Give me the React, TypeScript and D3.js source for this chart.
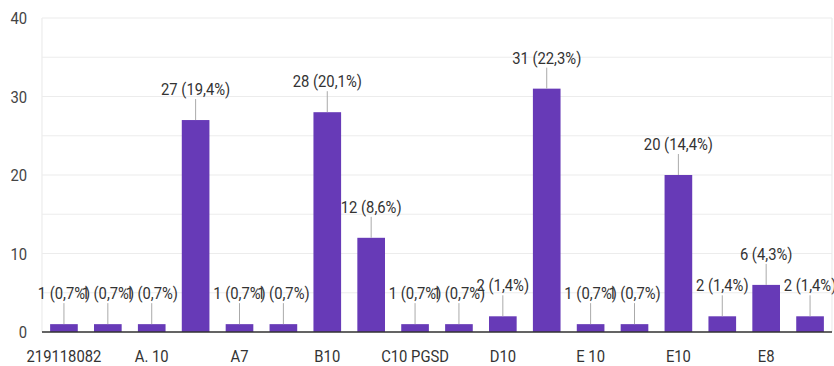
import React from "react";
import * as d3 from "d3";

// Categories (only every second label is shown on the axis, as in the reference)
const categories = [
  "219118082", "A 10", "A. 10", "A.10", "A7", "B 10", "B10", "C10",
  "C10 PGSD", "C10PGSD", "D10", "E 10 ", "E 10", "E 10.", "E10", "E7", "E8", "E9",
];
const counts = [1, 1, 1, 27, 1, 1, 28, 12, 1, 1, 2, 31, 1, 1, 20, 2, 6, 2];
const yTicks = [0, 10, 20, 30, 40];
const yGrid = [0, 5, 10, 15, 20, 25, 30, 35, 40];

const W = 834;
const H = 366;
const left = 42;
const right = 832;
const top = 18;
const bottom = 332;
const SX = 0.87;
const FONT = "Roboto, 'Liberation Sans', Arial, sans-serif";

export default function App() {
  const total = d3.sum(counts);
  const x = d3
    .scaleBand<string>()
    .domain(categories)
    .range([left, right])
    .paddingInner(0.37)
    .paddingOuter(0.185);
  const y = d3.scaleLinear().domain([0, 40]).range([bottom, top]);
  const fmt = (v: number) =>
    `${v} (${((v / total) * 100).toFixed(1).replace(".", ",")}%)`;

  return (
    <svg
      width={W}
      height={H}
      style={{ position: "absolute", left: 0, top: 0, background: "#fff" }}
      fontFamily={FONT}
    >
      {yGrid.map((t) => (
        <line key={"g" + t} x1={left} x2={right} y1={y(t)} y2={y(t)} stroke="#ececec" strokeWidth={1.2} />
      ))}
      <line x1={left} x2={left} y1={top} y2={bottom} stroke="#ececec" strokeWidth={1.2} />
      <line x1={right} x2={right} y1={top} y2={bottom} stroke="#ececec" strokeWidth={1.2} />
      {yTicks.map((t) => (
        <text
          key={"yt" + t}
          transform={`translate(27,${y(t) + 6}) scale(${SX},1)`}
          textAnchor="end"
          fontSize={17}
          fill="#444"
        >
          {t}
        </text>
      ))}
      {counts.map((v, i) => {
        const c = categories[i];
        const bx = x(c)!;
        const bw = x.bandwidth();
        const cx = bx + bw / 2;
        const yt = y(v);
        return (
          <g key={"b" + i}>
            <rect x={bx} y={yt} width={bw} height={bottom - yt} fill="#673ab7" />
            <line x1={cx} x2={cx} y1={yt} y2={yt - 21} stroke="#aaa" strokeWidth={1} />
            <text
              transform={`translate(${cx},${yt - 25}) scale(${SX},1)`}
              textAnchor="middle"
              fontSize={17}
              fill="#333"
            >
              {fmt(v)}
            </text>
          </g>
        );
      })}
      <line x1={left} x2={right} y1={bottom} y2={bottom} stroke="#333" strokeWidth={1.5} />
      {categories.map((c, i) =>
        i % 2 === 0 ? (
          <text
            key={"xl" + i}
            transform={`translate(${x(c)! + x.bandwidth() / 2},362) scale(${SX},1)`}
            textAnchor="middle"
            fontSize={17}
            fill="#333"
          >
            {c}
          </text>
        ) : null
      )}
    </svg>
  );
}
